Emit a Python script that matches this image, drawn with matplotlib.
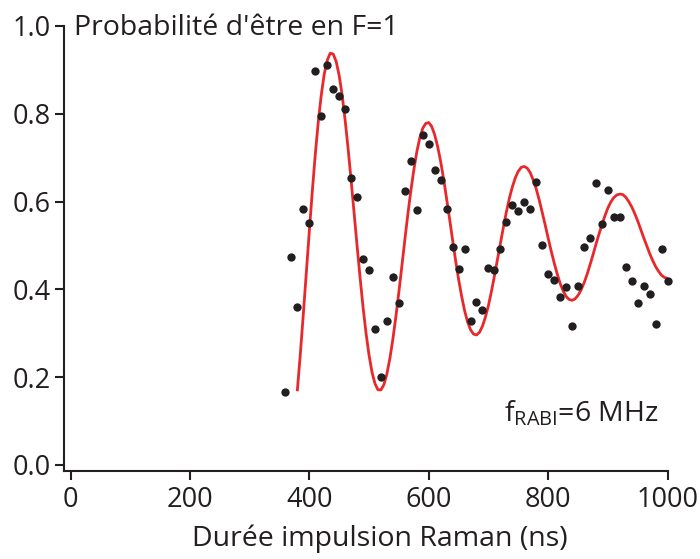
import matplotlib
matplotlib.use("Agg")
import matplotlib.pyplot as plt

duree_ns = [360, 370, 380, 390, 400, 410, 420, 430, 440, 450,
            460, 470, 480, 490, 500, 510, 520, 530, 540, 550,
            560, 570, 580, 590, 600, 610, 620, 630, 640, 650,
            660, 670, 680, 690, 700, 710, 720, 730, 740, 750,
            760, 770, 780, 790, 800, 810, 820, 830, 840, 850,
            860, 870, 880, 890, 900, 910, 920, 930, 940, 950,
            960, 970, 980, 990, 1000]
proba = [0.165, 0.474, 0.359, 0.582, 0.552, 0.898, 0.795, 0.911, 0.856, 0.841,
         0.810, 0.654, 0.610, 0.470, 0.443, 0.310, 0.201, 0.327, 0.429, 0.368,
         0.624, 0.693, 0.581, 0.752, 0.730, 0.672, 0.648, 0.583, 0.496, 0.446,
         0.491, 0.327, 0.372, 0.353, 0.449, 0.444, 0.491, 0.553, 0.593, 0.579,
         0.600, 0.583, 0.645, 0.501, 0.434, 0.421, 0.383, 0.406, 0.317, 0.408,
         0.497, 0.518, 0.642, 0.548, 0.626, 0.564, 0.564, 0.450, 0.418, 0.369,
         0.408, 0.389, 0.320, 0.491, 0.418]

# courbe d'ajustement (rouge), relevée tous les 5 ns
t_fit = [380, 385, 390, 395, 400, 405, 410, 415, 420, 425,
         430, 435, 440, 445, 450, 455, 460, 465, 470, 475,
         480, 485, 490, 495, 500, 505, 510, 515, 520, 525,
         530, 535, 540, 545, 550, 555, 560, 565, 570, 575,
         580, 585, 590, 595, 600, 605, 610, 615, 620, 625,
         630, 635, 640, 645, 650, 655, 660, 665, 670, 675,
         680, 685, 690, 695, 700, 705, 710, 715, 720, 725,
         730, 735, 740, 745, 750, 755, 760, 765, 770, 775,
         780, 785, 790, 795, 800, 805, 810, 815, 820, 825,
         830, 835, 840, 845, 850, 855, 860, 865, 870, 875,
         880, 885, 890, 895, 900, 905, 910, 915, 920, 925,
         930, 935, 940, 945, 950, 955, 960, 965, 970, 975,
         980, 985, 990, 995, 1000]
p_fit = [0.171, 0.254, 0.345, 0.439, 0.533, 0.624, 0.708, 0.782, 0.843, 0.891,
         0.922, 0.938, 0.936, 0.919, 0.887, 0.842, 0.785, 0.720, 0.648, 0.574,
         0.499, 0.427, 0.359, 0.300, 0.250, 0.211, 0.185, 0.171, 0.171, 0.183,
         0.208, 0.243, 0.287, 0.338, 0.394, 0.453, 0.513, 0.571, 0.624, 0.672,
         0.713, 0.745, 0.767, 0.778, 0.780, 0.771, 0.752, 0.725, 0.691, 0.651,
         0.606, 0.560, 0.512, 0.466, 0.423, 0.385, 0.352, 0.326, 0.308, 0.298,
         0.296, 0.302, 0.316, 0.337, 0.363, 0.395, 0.430, 0.467, 0.504, 0.541,
         0.576, 0.607, 0.633, 0.654, 0.669, 0.678, 0.680, 0.676, 0.666, 0.649,
         0.629, 0.604, 0.576, 0.547, 0.517, 0.488, 0.461, 0.436, 0.414, 0.397,
         0.384, 0.377, 0.375, 0.378, 0.386, 0.398, 0.414, 0.433, 0.455, 0.478,
         0.502, 0.525, 0.547, 0.567, 0.585, 0.599, 0.609, 0.615, 0.617, 0.616,
         0.610, 0.600, 0.588, 0.573, 0.556, 0.537, 0.518, 0.500, 0.482, 0.466,
         0.452, 0.441, 0.432, 0.427, 0.425]

x_ticks = [0, 200, 400, 600, 800, 1000]
y_ticks = [0.0, 0.2, 0.4, 0.6, 0.8, 1.0]

NOIR = "#231f20"
ROUGE = "#e8282b"

plt.rcParams["font.family"] = ["Open Sans", "DejaVu Sans"]
plt.rcParams["mathtext.fontset"] = "custom"
plt.rcParams["mathtext.rm"] = "Open Sans"
plt.rcParams["mathtext.it"] = "Open Sans"


def tracer():
    """Oscillation de Rabi : points + ajustement."""
    fig = plt.figure(figsize=(7.0, 5.59), dpi=100)
    ax = fig.add_axes([0.0914, 0.1574, 0.8622, 0.7961])

    ax.plot(t_fit, p_fit, color=ROUGE, lw=2.0, zorder=2)
    ax.plot(duree_ns, proba, "o", color=NOIR, ms=6.0, mew=0, zorder=3,
            clip_on=False)

    ax.set_xlim(-11, 1000)
    ax.set_ylim(-0.014, 1.0)
    ax.set_xticks(x_ticks)
    ax.set_yticks(y_ticks)
    ax.set_xticklabels([str(v) for v in x_ticks])
    ax.set_yticklabels([f"{v:.1f}" for v in y_ticks])

    for s in ["top", "right"]:
        ax.spines[s].set_visible(False)
    for s in ["left", "bottom"]:
        ax.spines[s].set_linewidth(1.5)
        ax.spines[s].set_color(NOIR)
    ax.tick_params(axis="both", direction="out", length=6.5, width=1.5,
                   color=NOIR, labelcolor=NOIR, labelsize=19.5)
    ax.tick_params(axis="y", pad=3)
    ax.tick_params(axis="x", pad=4)

    ax.set_xlabel("Durée impulsion Raman (ns)", fontsize=20.5, color=NOIR)
    ax.xaxis.set_label_coords(0.524, -0.121)
    ax.text(6, 0.979, "Probabilité d'être en F=1", fontsize=20.5, color=NOIR,
            ha="left", va="baseline")
    ax.text(726, 0.099, r"f$_{\mathrm{RABI}}$=6 MHz", fontsize=20.5, color=NOIR,
            ha="left", va="baseline")

    fig.savefig("out.png", dpi=100)


if __name__ == "__main__":
    tracer()
